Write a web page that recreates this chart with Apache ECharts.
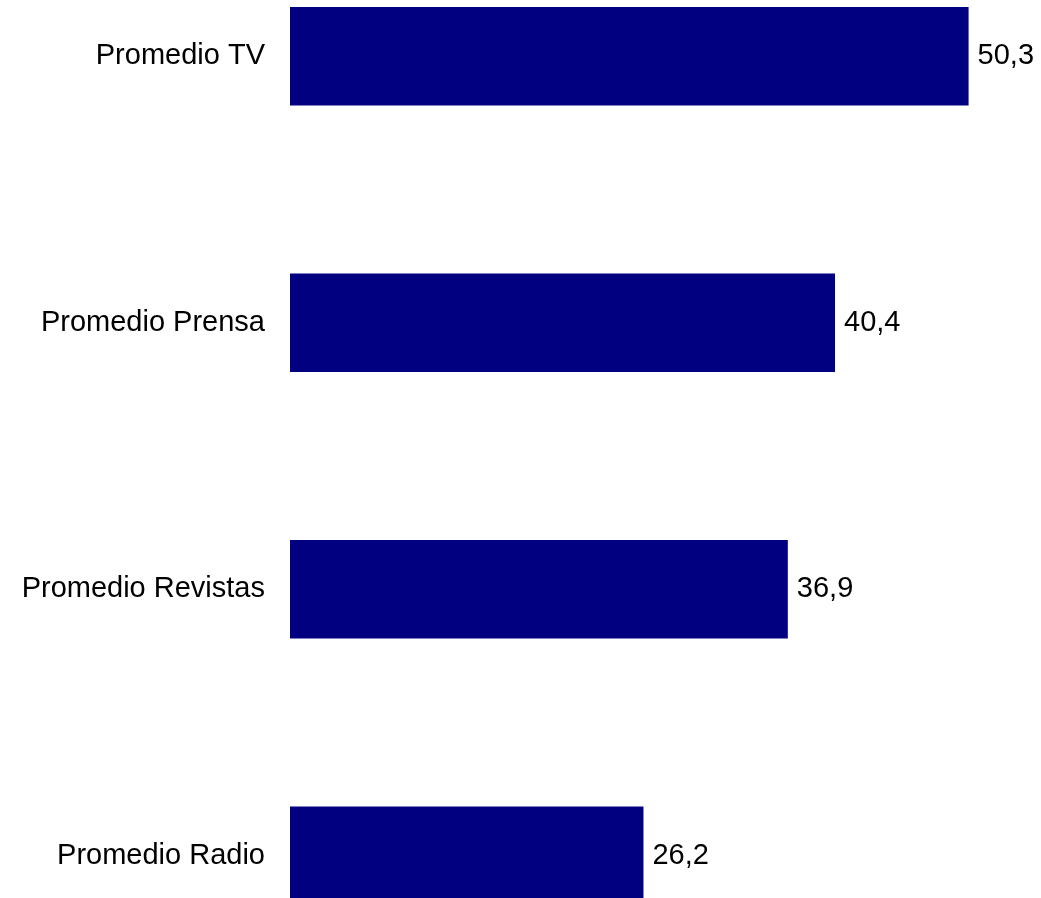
<!DOCTYPE html>
<html>
<head>
<meta charset="utf-8">
<style>
  html, body { margin: 0; padding: 0; background: #ffffff; overflow: hidden; }
  #wrap { position: relative; width: 1041px; height: 898px; overflow: hidden; }
  /* the plot bands run past the top and bottom edges of the page */
  #chart { position: absolute; left: 0; top: -77px; width: 1041px; height: 1066px; }
</style>
<script src="https://cdn.jsdelivr.net/npm/echarts@6/dist/echarts.min.js"></script>
</head>
<body>
<div id="wrap"><div id="chart"></div></div>
<script>
// Average per media type
const categories = ['Promedio TV', 'Promedio Prensa', 'Promedio Revistas', 'Promedio Radio'];
const values = [50.3, 40.4, 36.9, 26.2];

const fmt = v => String(v).replace('.', ',');

const chart = echarts.init(document.getElementById('chart'), null, { renderer: 'canvas' });
chart.setOption({
  animation: false,
  backgroundColor: '#ffffff',
  grid: { left: 290, right: 9, top: 0, bottom: 0, containLabel: false },
  xAxis: {
    type: 'value',
    min: 0,
    max: 55,
    show: false
  },
  yAxis: {
    type: 'category',
    data: categories,
    inverse: true,
    axisLine: { show: false },
    axisTick: { show: false },
    splitLine: { show: false },
    axisLabel: {
      margin: 25,
      color: '#000000',
      fontFamily: 'Liberation Sans, Arial, sans-serif',
      fontSize: 29
    }
  },
  series: [{
    type: 'bar',
    data: values,
    barWidth: '37%',
    itemStyle: { color: '#000080' },
    label: {
      show: true,
      position: 'right',
      distance: 9,
      color: '#000000',
      fontFamily: 'Liberation Sans, Arial, sans-serif',
      fontSize: 29,
      formatter: p => fmt(p.value)
    }
  }]
});
</script>
</body>
</html>
